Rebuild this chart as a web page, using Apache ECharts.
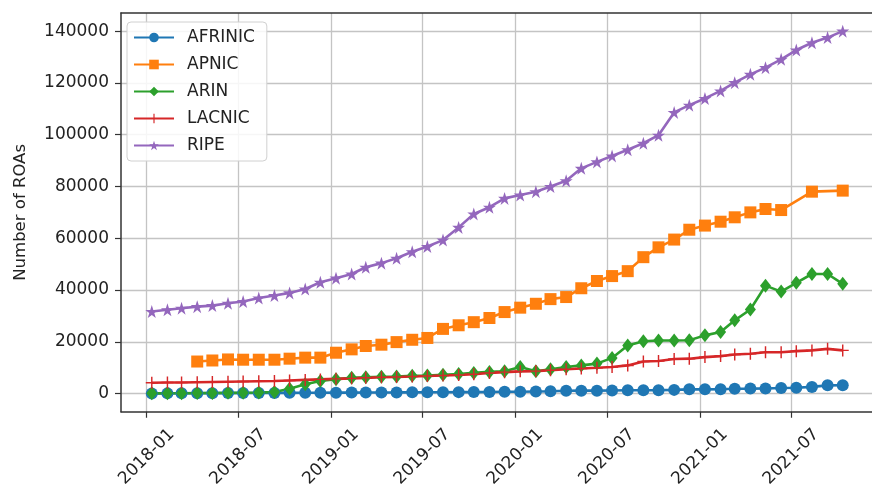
<!DOCTYPE html>
<html>
<head>
<meta charset="utf-8">
<script src="https://cdn.jsdelivr.net/npm/echarts@6/dist/echarts.min.js"></script>
<style>
  html, body { margin: 0; padding: 0; background: #fff; }
  #main { width: 872px; height: 490px; }
</style>
</head>
<body>
<div id="main"></div>
<script>
// one point per month, taken around the 11th
const months = [
  '2018-01','2018-02','2018-03','2018-04','2018-05','2018-06','2018-07','2018-08','2018-09','2018-10','2018-11','2018-12',
  '2019-01','2019-02','2019-03','2019-04','2019-05','2019-06','2019-07','2019-08','2019-09','2019-10','2019-11','2019-12',
  '2020-01','2020-02','2020-03','2020-04','2020-05','2020-06','2020-07','2020-08','2020-09','2020-10','2020-11','2020-12',
  '2021-01','2021-02','2021-03','2021-04','2021-05','2021-06','2021-07','2021-08','2021-09','2021-10'
];
const afrinic = [50,100,120,150,180,200,220,250,280,300,330,350,380,400,420,450,470,500,520,550,580,600,650,
  750,700,800,900,1100,1150,1150,1200,1300,1300,1350,1450,1650,1650,1700,1900,1950,2000,2200,2250,2600,3200,3250];
const apnic = [null,null,null,12400,12800,13200,13100,13100,13100,13500,13900,13900,
  15800,17100,18400,18900,19900,20800,21500,25000,26400,27600,29200,31500,
  33200,34700,36500,37300,40700,43500,45400,47300,52700,56500,59500,63300,
  64900,66400,68100,70000,71300,70900,null,78000,null,78400];
const arin = [100,150,150,200,250,300,350,450,600,1900,3600,4900,5600,6100,6300,6500,6600,6900,7000,7300,7600,8000,8400,
  8600,10300,8600,9400,10300,10900,11600,13800,18600,20200,20500,20500,20600,22500,23800,28300,32500,41700,39400,42800,46200,46200,42400];
const lacnic = [4200,4300,4300,4400,4500,4600,4700,4800,4900,5100,5300,5500,5700,5900,6100,6300,6400,6600,6800,7000,7200,7500,8000,
  8300,8600,8700,9000,9400,9700,10000,10300,10900,12400,12600,13400,13500,14100,14500,15100,15400,16000,16000,16400,16700,17300,16700];
const ripe = [31700,32400,33000,33600,34000,34900,35600,36900,37900,38900,40400,43000,44600,46200,48800,50400,52300,54800,56800,59300,64200,69400,72000,
  75400,76700,78000,80000,82200,87000,89500,91800,94200,96700,99800,108600,111400,114000,116900,120100,123300,125900,129100,132700,135500,137500,140000];

const xTicks = ['2018-01','2018-07','2019-01','2019-07','2020-01','2020-07','2021-01','2021-07'];
const yTicks = [0,20000,40000,60000,80000,100000,120000,140000];

function toTime(ym, day) {
  const p = ym.split('-');
  return Date.UTC(+p[0], +p[1] - 1, day);
}
function pairs(vals) {
  return months.map((m, i) => [toTime(m, 11), vals[i]]);
}

const starPath = 'path://M0,-1L0.2245,-0.309L0.951,-0.309L0.363,0.118L0.588,0.809L0,0.382L-0.588,0.809L-0.363,0.118L-0.951,-0.309L-0.2245,-0.309Z';
const plusPath = 'path://M-0.12,-1L0.12,-1L0.12,-0.12L1,-0.12L1,0.12L0.12,0.12L0.12,1L-0.12,1L-0.12,0.12L-1,0.12L-1,-0.12L-0.12,-0.12Z';

const font = 'DejaVu Sans';
const ink = '#222';
const spine = { color: '#333', width: 1.5 };

function line(name, vals, color, symbol, size) {
  return {
    name: name,
    type: 'line',
    data: pairs(vals),
    connectNulls: true,
    symbol: symbol,
    symbolSize: size,
    showAllSymbol: true,
    itemStyle: { color: color },
    lineStyle: { color: color, width: 2.6 },
    emphasis: { disabled: true },
    animation: false
  };
}

// right edge of the axes lies just past the picture, so no right spine
const chart = echarts.init(document.getElementById('main'), null, { renderer: 'canvas' });
chart.setOption({
  animation: false,
  backgroundColor: '#fff',
  grid: { left: 121, right: 0, top: 13, bottom: 77, show: false },
  legend: {
    orient: 'vertical',
    left: 127, top: 22,
    padding: [7, 12, 7, 6],
    itemWidth: 40, itemHeight: 12, itemGap: 10,
    backgroundColor: 'rgba(255,255,255,0.85)',
    borderColor: '#d0d0d0', borderWidth: 1, borderRadius: 4,
    textStyle: { fontFamily: font, fontSize: 17, color: ink, padding: [0, 0, 0, 8] },
    data: ['AFRINIC', 'APNIC', 'ARIN', 'LACNIC', 'RIPE']
  },
  xAxis: [{
    type: 'value',
    min: toTime('2017-11', 11),
    max: toTime('2021-12', 8),
    axisLine: { show: true, onZero: false, lineStyle: spine },
    axisTick: { show: true, length: 6, lineStyle: { color: '#333', width: 1.2 }, customValues: xTicks.map(t => toTime(t, 1)) },
    axisLabel: {
      customValues: xTicks.map(t => toTime(t, 1)),
      rotate: 45, align: 'center', verticalAlign: 'middle', margin: 45,
      fontFamily: font, fontSize: 17, color: ink,
      formatter: function (v) {
        const d = new Date(v);
        return d.getUTCFullYear() + '-' + String(d.getUTCMonth() + 1).padStart(2, '0');
      }
    },
    splitLine: { show: true, lineStyle: { color: '#c4c4c4', width: 1.3 } }
  }, {
    // top spine only
    type: 'value', position: 'top',
    min: 0, max: 1,
    axisLine: { show: true, onZero: false, lineStyle: spine },
    axisTick: { show: false }, axisLabel: { show: false }, splitLine: { show: false }
  }],
  yAxis: {
    type: 'value',
    min: -7000, max: 147000,
    name: 'Number of ROAs',
    nameLocation: 'middle', nameRotate: 90, nameGap: 92,
    nameTextStyle: { fontFamily: font, fontSize: 16.5, color: ink },
    axisLine: { show: true, onZero: false, lineStyle: spine },
    axisTick: { show: true, length: 6, lineStyle: { color: '#333', width: 1.2 }, customValues: yTicks },
    axisLabel: {
      customValues: yTicks, margin: 12, fontFamily: font, fontSize: 17, color: ink,
      formatter: function (v) { return String(v); }
    },
    splitLine: { show: true, lineStyle: { color: '#c4c4c4', width: 1.3 } }
  },
  series: [
    line('AFRINIC', afrinic, '#1f77b4', 'circle', 12),
    line('APNIC', apnic, '#ff7f0e', 'rect', 12),
    line('ARIN', arin, '#2ca02c', 'diamond', [11, 14]),
    line('LACNIC', lacnic, '#d62728', plusPath, 12),
    line('RIPE', ripe, '#9467bd', starPath, 13)
  ]
});
</script>
</body>
</html>
